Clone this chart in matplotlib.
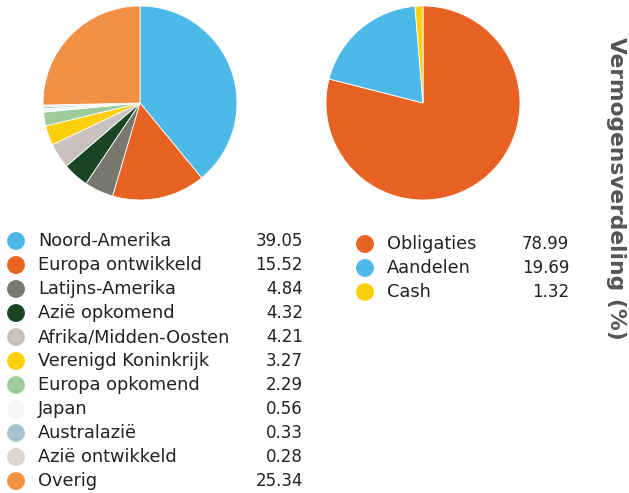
import matplotlib
matplotlib.use('Agg')
import matplotlib.pyplot as plt

# Regio-verdeling (linker taart)
regio_labels = ['Noord-Amerika', 'Europa ontwikkeld', 'Latijns-Amerika', 'Azië opkomend',
                'Afrika/Midden-Oosten', 'Verenigd Koninkrijk', 'Europa opkomend', 'Japan',
                'Australazië', 'Azië ontwikkeld', 'Overig']
regio_waarden = [39.05, 15.52, 4.84, 4.32, 4.21, 3.27, 2.29, 0.56, 0.33, 0.28, 25.34]
regio_kleuren = ['#4DB9E8', '#E86223', '#787870', '#1A4524', '#C9C0C0', '#FCD00F',
                 '#9ECB9B', '#F5F5F5', '#A8C5CE', '#DDD6CE', '#F19145']

# Activaklassen (rechter taart)
klasse_labels = ['Obligaties', 'Aandelen', 'Cash']
klasse_waarden = [78.99, 19.69, 1.32]
klasse_kleuren = ['#E86223', '#4DB9E8', '#FCD00F']

W, H = 629, 493
fig = plt.figure(figsize=(W / 100, H / 100), dpi=100)
plt.rcParams['font.family'] = ['DejaVu Sans']

# overlay-as in pixelcoördinaten (oorsprong linksboven) voor de legenda
lay = fig.add_axes([0, 0, 1, 1])
lay.set_xlim(0, W)
lay.set_ylim(H, 0)
lay.axis('off')


def pie_axes(cx, cy, r):
    return fig.add_axes([(cx - r) / W, (H - cy - r) / H, 2 * r / W, 2 * r / H])


def draw_pie(ax, values, colors):
    ax.pie(values, colors=colors, startangle=90, counterclock=False,
           wedgeprops=dict(edgecolor='white', linewidth=0.6))
    ax.set_xlim(-1.0, 1.0)
    ax.set_ylim(-1.0, 1.0)
    ax.set_aspect('equal')
    ax.axis('off')


def legend(x_dot, x_text, x_val, y0, step, labels, values, colors):
    ys = [y0 + i * step for i in range(len(labels))]
    lay.scatter([x_dot] * len(ys), ys, s=165, c=colors, linewidths=0, clip_on=False)
    for y, lab, val in zip(ys, labels, values):
        lay.text(x_text, y, lab, color='#222222', fontsize=12.8, ha='left', va='center')
        lay.text(x_val, y, f'{val:.2f}', color='#222222', fontsize=12,
                 ha='right', va='center')


draw_pie(pie_axes(140, 103, 97), regio_waarden, regio_kleuren)
draw_pie(pie_axes(423, 103, 97), klasse_waarden, klasse_kleuren)

legend(16, 38, 303, 241, 24, regio_labels, regio_waarden, regio_kleuren)
legend(365, 387, 569, 244, 24, klasse_labels, klasse_waarden, klasse_kleuren)

lay.text(616, 188, 'Vermogensverdeling (%)', rotation=270,
         fontsize=15.7, fontweight='bold', color='#555555', ha='center', va='center')

fig.savefig('out.png', dpi=100)
